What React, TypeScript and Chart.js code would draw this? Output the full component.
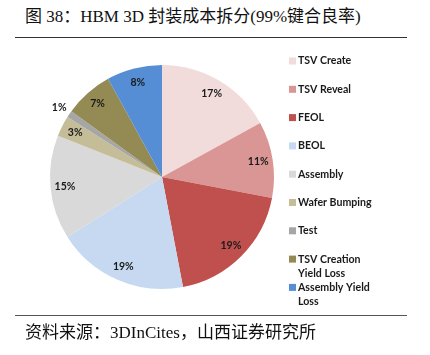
import React, { useEffect, useRef } from "react";
import { Chart, registerables } from "chart.js";

Chart.register(...registerables);

const categories: string[] = [
  "TSV Create",
  "TSV Reveal",
  "FEOL",
  "BEOL",
  "Assembly",
  "Wafer Bumping",
  "Test",
  "TSV Creation Yield Loss",
  "Assembly Yield Loss",
];
const legendLines: string[][] = [
  ["TSV Create"],
  ["TSV Reveal"],
  ["FEOL"],
  ["BEOL"],
  ["Assembly"],
  ["Wafer Bumping"],
  ["Test"],
  ["TSV Creation", "Yield Loss"],
  ["Assembly Yield", "Loss"],
];
const shares: number[] = [17, 11, 19, 19, 15, 3, 1, 7, 8];
const colors: string[] = [
  "#F2DCDB",
  "#D99694",
  "#C0504D",
  "#C6D9F1",
  "#D9D9D9",
  "#C4BD97",
  "#A6A6A6",
  "#948A54",
  "#558ED5",
];
const outsideLabel: boolean[] = [false, false, false, false, false, false, true, false, false];

const TITLE = "图 38：HBM 3D 封装成本拆分(99%键合良率)";
const SOURCE = "资料来源：3DInCites，山西证券研究所";

const LABEL_FONT = "bold 10.5px Lato, 'Open Sans', sans-serif";

const labelPlugin = {
  id: "sliceLabels",
  afterDatasetsDraw(chart: any) {
    const ctx = chart.ctx;
    const meta = chart.getDatasetMeta(0);
    ctx.save();
    ctx.font = LABEL_FONT;
    ctx.fillStyle = "#1a1a1a";
    ctx.textAlign = "center";
    ctx.textBaseline = "middle";
    meta.data.forEach((arc: any, i: number) => {
      const { x, y, startAngle, endAngle, outerRadius } = arc.getProps(
        ["x", "y", "startAngle", "endAngle", "outerRadius"],
        true
      );
      const mid = (startAngle + endAngle) / 2;
      const r = outsideLabel[i] ? outerRadius * 1.11 : outerRadius * 0.87;
      ctx.fillText(shares[i] + "%", x + Math.cos(mid) * r, y + Math.sin(mid) * r);
    });
    ctx.restore();
  },
};

const legendPlugin = {
  id: "sideLegend",
  afterDraw(chart: any) {
    const ctx = chart.ctx;
    const colorsDs = chart.data.datasets[0].backgroundColor as string[];
    ctx.save();
    ctx.font = "bold 10.6px Lato, 'Open Sans', sans-serif";
    ctx.textBaseline = "middle";
    ctx.textAlign = "left";
    const x0 = 289;
    const y0 = 61;
    const step = 28.3;
    const lh = 14;
    legendLines.forEach((lines, i) => {
      const y = y0 + i * step;
      ctx.fillStyle = colorsDs[i];
      ctx.fillRect(x0, y - 3.5, 7, 7);
      ctx.fillStyle = "#1a1a1a";
      lines.forEach((t, j) => ctx.fillText(t, x0 + 9, y + j * lh));
    });
    ctx.restore();
  },
};

export default function App() {
  const ref = useRef<HTMLCanvasElement>(null);
  useEffect(() => {
    if (!ref.current) return;
    const chart = new Chart(ref.current, {
      type: "pie",
      data: {
        labels: categories,
        datasets: [
          {
            data: shares,
            backgroundColor: colors,
            borderWidth: 0,
          },
        ],
      },
      options: {
        responsive: false,
        animation: false,
        layout: { padding: { left: 50, top: 65, right: 156, bottom: 66 } },
        plugins: {
          legend: { display: false },
          tooltip: { enabled: false },
        },
      },
      plugins: [labelPlugin, legendPlugin],
    });
    return () => chart.destroy();
  }, []);

  const serif = "'Liberation Serif', 'Times New Roman', 'Noto Sans CJK SC', serif";
  return (
    <div
      style={{
        position: "fixed",
        left: 0,
        top: 0,
        width: 430,
        height: 355,
        background: "#fff",
        overflow: "hidden",
      }}
    >
      <div
        style={{
          position: "absolute",
          left: 25,
          top: 6,
          fontFamily: serif,
          fontSize: 17,
          lineHeight: "22px",
          color: "#111",
          whiteSpace: "nowrap",
        }}
      >
        {TITLE}
      </div>
      <div
        style={{
          position: "absolute",
          left: 15,
          top: 37,
          width: 392,
          height: 1,
          background: "#333",
        }}
      />
      <canvas
        ref={ref}
        width={430}
        height={355}
        style={{ position: "absolute", left: 0, top: 0, width: 430, height: 355 }}
      />
      <div
        style={{
          position: "absolute",
          left: 15,
          top: 315,
          width: 392,
          height: 1,
          background: "#555",
        }}
      />
      <div
        style={{
          position: "absolute",
          left: 25,
          top: 322,
          fontFamily: serif,
          fontSize: 17,
          lineHeight: "22px",
          color: "#111",
          whiteSpace: "nowrap",
        }}
      >
        {SOURCE}
      </div>
    </div>
  );
}
